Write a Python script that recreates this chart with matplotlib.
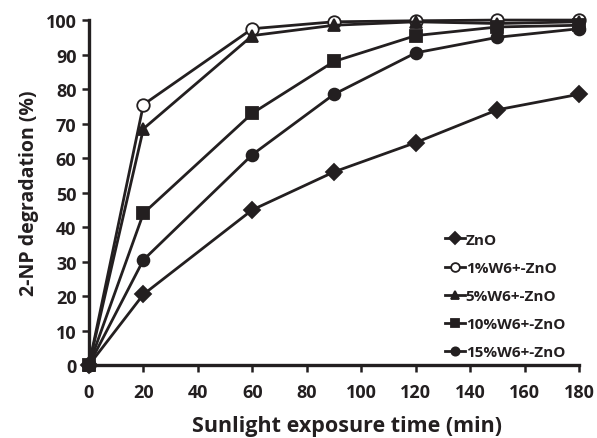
import matplotlib.pyplot as plt

#### Data
time = [0, 20, 60, 90, 120, 150, 180]
zno = [0, 20.5, 45, 56, 64.5, 74, 78.5]
w1 = [0, 75.5, 97.5, 99.5, 99.8, 100, 100]
w5 = [0, 68.5, 95.5, 98.5, 99.5, 99, 99.5]
w10 = [0, 44, 73, 88, 95.5, 98, 98.5]
w15 = [0, 30.5, 61, 78.5, 90.5, 95, 97.5]
labels = ['ZnO', '1%W6+-ZnO', '5%W6+-ZnO', '10%W6+-ZnO', '15%W6+-ZnO']

#### Plot settings
plt.rcParams['font.family'] = ['Open Sans', 'DejaVu Sans']
plt.rcParams['font.weight'] = 'bold'
c = '#231f20'

fig = plt.figure(figsize=(5.97, 4.39), dpi=100)
ax = fig.add_axes([0.149, 0.166, 0.821, 0.786])

series = [zno, w1, w5, w10, w15]
markers = ['D', 'o', '^', 's', 'o']
sizes = [8.5, 9, 8.5, 8, 8.5]
for y, lab, m, ms in zip(series, labels, markers, sizes):
    face = 'white' if lab == '1%W6+-ZnO' else c
    ax.plot(time, y, color=c, lw=2, marker=m, ms=ms, mfc=face, mec=c,
            mew=1.3, label=lab, clip_on=False)

ax.set_xlim(0, 180)
ax.set_ylim(0, 100)
ax.set_xticks(range(0, 181, 20))
ax.set_yticks(range(0, 101, 10))
for s in ['top', 'right']:
    ax.spines[s].set_visible(False)
for s in ['left', 'bottom']:
    ax.spines[s].set_linewidth(2.4)
    ax.spines[s].set_color(c)
ax.tick_params(direction='out', length=5, width=1.8, colors=c, labelsize=13)
ax.tick_params(axis='x', pad=8)
ax.tick_params(axis='y', pad=4)
for t in ax.get_xticklabels() + ax.get_yticklabels():
    t.set_fontweight('bold')

ax.set_xlabel('Sunlight exposure time (min)', fontsize=15.5, fontweight='bold', color=c)
ax.xaxis.set_label_coords(0.527, -0.145)
ax.set_ylabel('2-NP degradation (%)', fontsize=14, fontweight='bold', color=c, labelpad=5)

leg = ax.legend(loc='lower right', bbox_to_anchor=(0.984, 0.0), frameon=False,
                fontsize=11, handlelength=1.3, handletextpad=0.05,
                labelspacing=0.92, borderaxespad=0.0, markerscale=0.7)
for t in leg.get_texts():
    t.set_fontweight('bold')
    t.set_color(c)

plt.savefig('out.png', dpi=100)
